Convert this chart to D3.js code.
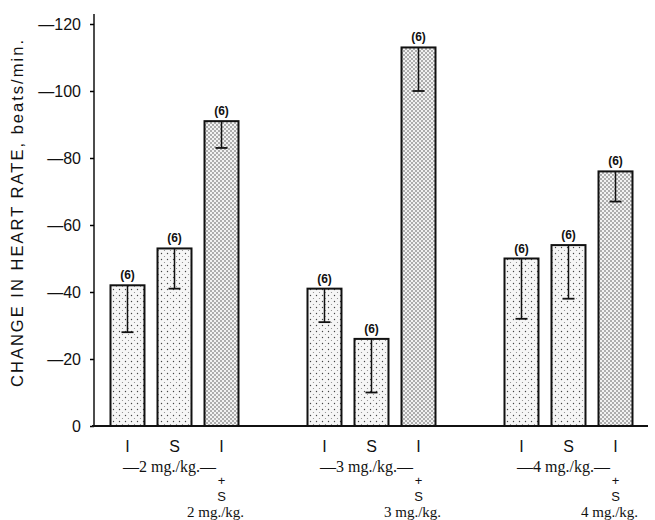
<!DOCTYPE html>
<html>
<head>
<meta charset="utf-8">
<script src="https://cdn.jsdelivr.net/npm/d3@7"></script>
<style>
  body { margin: 0; background: #fff; }
  svg { display: block; }
</style>
</head>
<body>
<div id="chart"></div>
<script>
// Data
const doses = ["2", "3", "4"];
const series = ["I", "S", "I+S"];
const seriesLabels = ["I", "S", "I"];
// mean decrease in heart rate (beats/min), shown as negative on the axis
const means = {
  "2": [42, 53, 91],
  "3": [41, 26, 113],
  "4": [50, 54, 76]
};
// lower end of the one-sided error bar
const errLow = {
  "2": [28, 41, 83],
  "3": [31, 10, 100],
  "4": [32, 38, 67]
};
const nLabels = ["(6)", "(6)", "(6)"];
const yTicks = [0, 20, 40, 60, 80, 100, 120];
const yTickLabels = ["0", "\u201420", "\u201440", "\u201460", "\u201480", "\u2014100", "\u2014120"];

window.addEventListener("DOMContentLoaded", function() {
    const width = 655;
    const height = 520;

    const svg = d3.select('#chart')
        .append('svg')
        .attr('width', width)
        .attr('height', height);

    // Stipple patterns
    const defs = svg.append('defs');
    const light = defs.append('pattern')
        .attr('id', 'light')
        .attr('patternUnits', 'userSpaceOnUse')
        .attr('width', 6).attr('height', 6);
    light.append('rect').attr('width', 6).attr('height', 6).attr('fill', '#f6f6f6');
    light.append('circle').attr('cx', 1.5).attr('cy', 1.5).attr('r', 0.7).attr('fill', '#444');
    light.append('circle').attr('cx', 4.5).attr('cy', 4.5).attr('r', 0.6).attr('fill', '#888');

    const dense = defs.append('pattern')
        .attr('id', 'dense')
        .attr('patternUnits', 'userSpaceOnUse')
        .attr('width', 4).attr('height', 4);
    dense.append('rect').attr('width', 4).attr('height', 4).attr('fill', '#f2f2f2');
    dense.append('circle').attr('cx', 1).attr('cy', 1).attr('r', 0.7).attr('fill', '#333');
    dense.append('circle').attr('cx', 3).attr('cy', 3).attr('r', 0.7).attr('fill', '#333');

    // Scales
    const x0 = d3.scaleBand()
        .domain(doses)
        .range([76, 667]);

    const x1 = d3.scaleBand()
        .domain(series)
        .range([0, x0.bandwidth()])
        .paddingInner(0.277)
        .paddingOuter(0.734);

    const y = d3.scaleLinear()
        .domain([0, 120])
        .range([426, 24]);

    // Y axis
    const yAxis = svg.append('g')
        .attr('transform', 'translate(94,0)')
        .call(d3.axisLeft(y)
            .tickValues(yTicks)
            .tickFormat((d, i) => yTickLabels[i])
            .tickSize(4)
            .tickSizeOuter(0)
            .tickPadding(9));
    yAxis.select('.domain')
        .attr('stroke', '#111')
        .attr('stroke-width', 1.5)
        .attr('d', `M0,${y(0)}V${y(123)}`);
    yAxis.selectAll('.tick line').attr('stroke-width', 1.5);
    yAxis.selectAll('.tick text')
        .style('font-family', '"Liberation Sans", Arial, sans-serif')
        .style('font-size', '16px')
        .attr('fill', '#111');

    // Y axis title
    svg.append('text')
        .attr('transform', `translate(23,${(40 + 387) / 2}) rotate(-90)`)
        .attr('text-anchor', 'middle')
        .attr('textLength', 347)
        .attr('lengthAdjust', 'spacing')
        .style('font-family', '"Liberation Sans", Arial, sans-serif')
        .style('font-size', '16.5px')
        .attr('fill', '#111')
        .text('CHANGE IN HEART RATE, beats/min.');

    // Bars
    const groups = svg.selectAll('g.dose')
        .data(doses)
        .enter()
        .append('g')
        .attr('class', 'dose')
        .attr('transform', d => `translate(${x0(d)},0)`);

    const cells = groups.selectAll('g.bar')
        .data(d => series.map((s, i) => ({
            dose: d, s: s, i: i, v: means[d][i], lo: errLow[d][i]
        })))
        .enter()
        .append('g')
        .attr('class', 'bar');

    cells.append('rect')
        .attr('x', d => x1(d.s))
        .attr('y', d => y(d.v))
        .attr('width', x1.bandwidth())
        .attr('height', d => y(0) - y(d.v))
        .attr('fill', d => d.s === 'I+S' ? 'url(#dense)' : 'url(#light)')
        .attr('stroke', '#111')
        .attr('stroke-width', 2);

    // One-sided error bars
    const cx = d => x1(d.s) + x1.bandwidth() / 2;
    cells.append('line')
        .attr('x1', cx).attr('x2', cx)
        .attr('y1', d => y(d.v)).attr('y2', d => y(d.lo))
        .attr('stroke', '#111').attr('stroke-width', 1.5);
    cells.append('line')
        .attr('x1', d => cx(d) - 6).attr('x2', d => cx(d) + 6)
        .attr('y1', d => y(d.lo)).attr('y2', d => y(d.lo))
        .attr('stroke', '#111').attr('stroke-width', 1.8);

    // n labels
    cells.append('text')
        .attr('x', cx)
        .attr('y', d => y(d.v) - 6)
        .attr('text-anchor', 'middle')
        .style('font-family', '"Liberation Sans", Arial, sans-serif')
        .style('font-size', '12px')
        .style('font-weight', 'bold')
        .attr('fill', '#111')
        .text(d => nLabels[d.i]);

    // X axis line
    svg.append('line')
        .attr('x1', 92).attr('x2', 648)
        .attr('y1', y(0)).attr('y2', y(0))
        .attr('stroke', '#111').attr('stroke-width', 2);

    // Series labels under bars
    cells.append('text')
        .attr('x', cx)
        .attr('y', 452)
        .attr('text-anchor', 'middle')
        .style('font-family', '"Liberation Sans", Arial, sans-serif')
        .style('font-size', '16px')
        .attr('fill', '#111')
        .text(d => seriesLabels[d.i]);

    // Dose group labels
    groups.append('text')
        .attr('x', x1('S') + x1.bandwidth() / 2 - 5)
        .attr('y', 472)
        .attr('text-anchor', 'middle')
        .style('font-family', '"Liberation Serif", "Times New Roman", serif')
        .style('font-size', '16px')
        .attr('fill', '#111')
        .text(d => `\u2014${d} mg./kg.\u2014`);

    // Combined dose labels under I + S
    const comb = groups.append('g')
        .attr('transform', `translate(${x1('I+S') + x1.bandwidth() / 2},0)`);
    comb.append('text')
        .attr('y', 485)
        .attr('text-anchor', 'middle')
        .style('font-family', '"Liberation Sans", Arial, sans-serif')
        .style('font-size', '13px')
        .attr('fill', '#111')
        .text('+');
    comb.append('text')
        .attr('y', 500.5)
        .attr('text-anchor', 'middle')
        .style('font-family', '"Liberation Sans", Arial, sans-serif')
        .style('font-size', '13px')
        .attr('fill', '#111')
        .text('S');
    comb.append('text')
        .attr('x', -6)
        .attr('y', 517)
        .attr('text-anchor', 'middle')
        .style('font-family', '"Liberation Serif", "Times New Roman", serif')
        .style('font-size', '15px')
        .attr('fill', '#111')
        .text(d => `${d} mg./kg.`);
});
</script>
</body>
</html>
